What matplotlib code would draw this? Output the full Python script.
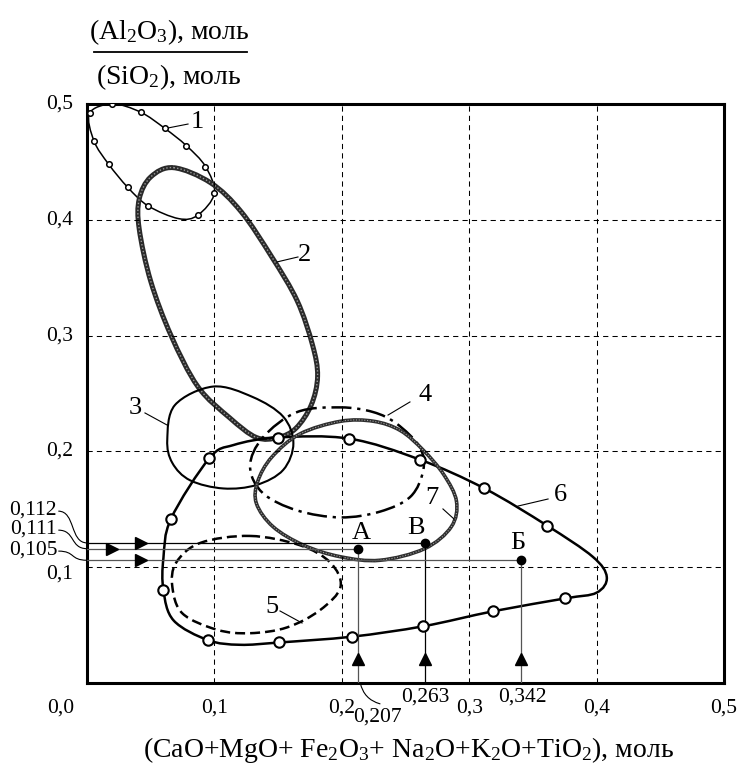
import numpy as np
import matplotlib
matplotlib.use('Agg')
import matplotlib.pyplot as plt
from matplotlib.path import Path
from matplotlib.patches import PathPatch

plt.rcParams['font.family'] = ['Liberation Serif', 'DejaVu Serif']
plt.rcParams['mathtext.fontset'] = 'custom'
plt.rcParams['mathtext.rm'] = 'Liberation Serif'
plt.rcParams['mathtext.it'] = 'Liberation Serif:italic'

# Region outlines (x = sum of oxides, y = Al2O3/SiO2)
curve1_x = [0.002, 0.020, 0.042, 0.061, 0.078, 0.093, 0.100, 0.087, 0.072, 0.048, 0.032, 0.017, 0.0055]
curve1_y = [0.492, 0.500, 0.493, 0.479, 0.464, 0.446, 0.423, 0.404, 0.401, 0.412, 0.428, 0.448, 0.468]
curve1_mark = [1, 1, 1, 1, 1, 1, 1, 1, 0, 1, 1, 1, 1]

curve2_x = [0.068, 0.097, 0.121, 0.145, 0.165, 0.177, 0.181, 0.176, 0.164, 0.150, 0.133, 0.112, 0.087, 0.066, 0.050, 0.041, 0.041, 0.050]
curve2_y = [0.445, 0.432, 0.407, 0.368, 0.330, 0.292, 0.265, 0.240, 0.220, 0.212, 0.212, 0.229, 0.256, 0.300, 0.347, 0.392, 0.418, 0.437]

curve3_x = [0.063, 0.069, 0.099, 0.130, 0.154, 0.162, 0.154, 0.133, 0.107, 0.081, 0.067]
curve3_y = [0.210, 0.240, 0.256, 0.247, 0.230, 0.207, 0.184, 0.171, 0.168, 0.175, 0.190]

curve4_x = [0.165, 0.199, 0.2245, 0.243, 0.261, 0.264, 0.254, 0.230, 0.199, 0.165, 0.138, 0.128, 0.138]
curve4_y = [0.234, 0.238, 0.234, 0.224, 0.204, 0.184, 0.161, 0.148, 0.143, 0.149, 0.164, 0.187, 0.212]

curve5_x = [0.128, 0.167, 0.191, 0.199, 0.183, 0.157, 0.128, 0.102, 0.075, 0.067, 0.070, 0.089]
curve5_y = [0.127, 0.119, 0.104, 0.083, 0.063, 0.048, 0.043, 0.046, 0.060, 0.083, 0.104, 0.121]

curve6_x = [0.150, 0.206, 0.261, 0.312, 0.361, 0.397, 0.408, 0.400, 0.375, 0.319, 0.264, 0.208, 0.151, 0.120, 0.095, 0.068, 0.060, 0.060, 0.066, 0.096, 0.115]
curve6_y = [0.212, 0.211, 0.193, 0.168, 0.136, 0.109, 0.0915, 0.078, 0.073, 0.062, 0.049, 0.040, 0.035, 0.033, 0.037, 0.054, 0.080, 0.108, 0.142, 0.194, 0.2055]
curve6_mark = [1, 1, 1, 1, 1, 0, 0, 0, 1, 1, 1, 1, 1, 0, 1, 0, 1, 0, 1, 1, 0]

curve7_x = [0.167, 0.199, 0.225, 0.246, 0.264, 0.280, 0.290, 0.286, 0.265, 0.230, 0.199, 0.170, 0.146, 0.133, 0.134, 0.145]
curve7_y = [0.215, 0.226, 0.226, 0.218, 0.201, 0.180, 0.157, 0.135, 0.116, 0.106, 0.109, 0.119, 0.135, 0.155, 0.174, 0.195]

# Samples A, B, Б
pt_names = ['А', 'В', 'Б']
pt_x = [0.213, 0.265, 0.341]
pt_y = [0.116, 0.121, 0.106]
pt_xlabels = ['0,207', '0,263', '0,342']
pt_ylabels = ['0,111', '0,112', '0,105']

ticks = [0.1, 0.2, 0.3, 0.4, 0.5]
tick_labels = ['0,1', '0,2', '0,3', '0,4', '0,5']


def closed_path(xs, ys):
    # closed smooth curve through the points (Catmull-Rom as cubic Bezier)
    p = np.column_stack([xs, ys])
    n = len(p)
    verts = [p[0]]
    codes = [Path.MOVETO]
    for i in range(n):
        p0, p1, p2, p3 = p[i - 1], p[i], p[(i + 1) % n], p[(i + 2) % n]
        verts += [p1 + (p2 - p0) / 6, p2 - (p3 - p1) / 6, p2]
        codes += [Path.CURVE4] * 3
    return Path(verts, codes)


def s_leader(ax, x0, y0, x1, y1):
    dx = x1 - x0
    path = Path([(x0, y0), (x0 + dx * 0.6, y0), (x1 - dx * 0.6, y1), (x1, y1)],
                [Path.MOVETO, Path.CURVE4, Path.CURVE4, Path.CURVE4])
    ax.add_patch(PathPatch(path, fill=False, lw=0.8, color='black', clip_on=False))


fig = plt.figure(figsize=(7.38, 7.69), dpi=100)
ax = fig.add_axes([87 / 738, 1 - 683 / 769, 637 / 738, 579 / 769])
ax.set_xlim(0, 0.5)
ax.set_ylim(0, 0.5)
ax.set_xticks(ticks[:-1])
ax.set_yticks(ticks[:-1])
ax.tick_params(length=0, labelbottom=False, labelleft=False)
ax.grid(True, color='black', lw=0.75, ls=(0, (5, 4)))
for s in ax.spines.values():
    s.set_linewidth(2.2)

# tick labels
for t, lab in zip(ticks, tick_labels):
    ax.text(t, -0.0216, lab, ha='center', va='center', fontsize=15.5, clip_on=False)
    dy = -0.006 if t == 0.1 else 0
    ax.text(-0.011, t + dy, lab, ha='right', va='center', fontsize=15.5, clip_on=False)
ax.text(-0.021, -0.0216, '0,0', ha='center', va='center', fontsize=15.5, clip_on=False)

# outlines
ax.add_patch(PathPatch(closed_path(curve1_x, curve1_y), fill=False, lw=1.1, color='black'))
ax.add_patch(PathPatch(closed_path(curve2_x, curve2_y), fill=False, lw=3.6, color='#2a2a2a'))
ax.add_patch(PathPatch(closed_path(curve2_x, curve2_y), fill=False, lw=1.0, color='#9a9a9a',
                       ls=(0, (1, 1.5))))
ax.add_patch(PathPatch(closed_path(curve3_x, curve3_y), fill=False, lw=1.5, color='black'))
ax.add_patch(PathPatch(closed_path(curve4_x, curve4_y), fill=False, lw=1.8, color='black',
                       ls=(0, (8, 2.3, 1.3, 2.3))))
ax.add_patch(PathPatch(closed_path(curve5_x, curve5_y), fill=False, lw=1.8, color='black',
                       ls=(0, (4, 2))))
ax.add_patch(PathPatch(closed_path(curve6_x, curve6_y), fill=False, lw=1.8, color='black'))
ax.add_patch(PathPatch(closed_path(curve7_x, curve7_y), fill=False, lw=2.6, color='#2e2e2e'))
ax.add_patch(PathPatch(closed_path(curve7_x, curve7_y), fill=False, lw=0.8, color='#a0a0a0',
                       ls=(0, (1, 1.5))))

m1 = np.array(curve1_mark) == 1
ax.plot(np.array(curve1_x)[m1], np.array(curve1_y)[m1], 'o', ms=4, mfc='white', mec='black', mew=1.1, zorder=4)
m6 = np.array(curve6_mark) == 1
ax.plot(np.array(curve6_x)[m6], np.array(curve6_y)[m6], 'o', ms=7.5, mfc='white', mec='black', mew=1.5, zorder=4)

# region numbers with leader lines
num_labels = ['1', '2', '3', '4', '5', '6', '7']
num_x = [0.0864, 0.171, 0.0377, 0.2653, 0.1452, 0.3713, 0.2708]
num_y = [0.4845, 0.3696, 0.2375, 0.2487, 0.0656, 0.1623, 0.1598]
lead_x0 = [0.0636, 0.1491, 0.0455, 0.2363, 0.1515, 0.3383, 0.2794]
lead_y0 = [0.4793, 0.3636, 0.2332, 0.2314, 0.0622, 0.1528, 0.1503]
lead_x1 = [0.0793, 0.1656, 0.0628, 0.2535, 0.1688, 0.3619, 0.2881]
lead_y1 = [0.4827, 0.3679, 0.2228, 0.2427, 0.0518, 0.1589, 0.1416]
for i in range(7):
    ax.text(num_x[i], num_y[i], num_labels[i], ha='center', va='center', fontsize=19)
    ax.plot([lead_x0[i], lead_x1[i]], [lead_y0[i], lead_y1[i]], color='black', lw=0.8)

# sample points with projection lines
line_cols = ['#555555', 'black', '#555555']
h_tip = [0.026, 0.048, 0.048]
for i in range(3):
    c = line_cols[i]
    ax.plot([0, pt_x[i]], [pt_y[i], pt_y[i]], color=c, lw=0.9, zorder=3)
    ax.plot([pt_x[i], pt_x[i]], [0, pt_y[i]], color=c, lw=0.9, zorder=3)
    ax.plot(h_tip[i] - 0.006, pt_y[i], '>', ms=9, color='black', zorder=4)
    ax.plot(pt_x[i], 0.021, '^', ms=9, color='black', zorder=4)
    ax.plot(pt_x[i], pt_y[i], 'o', ms=6, color='black', zorder=5)
lab_x = [0.2151, 0.2582, 0.3383]
lab_y = [0.1295, 0.1339, 0.1209]
for i in range(3):
    ax.text(lab_x[i], lab_y[i], pt_names[i], ha='center', va='center', fontsize=19)

# value labels
ax.text(0.2653, -0.012, pt_xlabels[1], ha='center', va='center', fontsize=15.5, clip_on=False)
ax.text(0.3414, -0.012, pt_xlabels[2], ha='center', va='center', fontsize=15.5, clip_on=False)
ax.text(0.228, -0.029, pt_xlabels[0], ha='center', va='center', fontsize=15.5, clip_on=False)
ax.annotate('', xy=(0.2145, 0.0), xytext=(0.230, -0.018),
            arrowprops=dict(arrowstyle='-', lw=0.8, color='black', connectionstyle='arc3,rad=-0.3',
                            shrinkA=0, shrinkB=0), annotation_clip=False)

left_lab_y = [0.133, 0.1494, 0.1149]
for i in range(3):
    ax.text(-0.0424, left_lab_y[i], pt_ylabels[i], ha='center', va='center', fontsize=15.5, clip_on=False)
    s_leader(ax, -0.0225, left_lab_y[i] - 0.001, 0.0, pt_y[i])

# axis titles
fig.text(0.554, 0.025, '(CaO+MgO+ Fe$_2$O$_3$+ Na$_2$O+K$_2$O+TiO$_2$), моль',
         ha='center', va='center', fontsize=20)
fig.text(0.229, 0.958, '(Al$_2$O$_3$), моль', ha='center', va='center', fontsize=20)
fig.text(0.229, 0.900, '(SiO$_2$), моль', ha='center', va='center', fontsize=20)
fig.add_artist(plt.Line2D([94 / 738, 247 / 738], [1 - 52 / 769, 1 - 52 / 769], color='black', lw=1.3))

fig.savefig('out.png', dpi=100)
